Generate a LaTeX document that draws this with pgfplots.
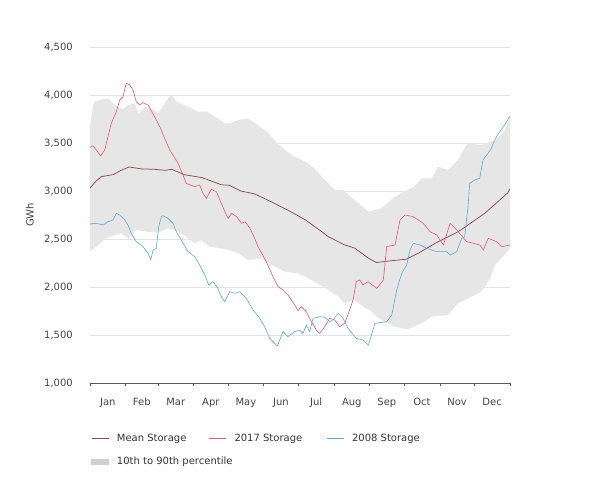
\documentclass[border=0pt]{standalone}
\usepackage{fontspec}
\setmainfont{DejaVu Sans}
\usepackage{pgfplots}
\pgfplotsset{compat=1.18}
\definecolor{meancol}{HTML}{8B4B55}
\definecolor{c2017}{HTML}{E8557A}
\definecolor{c2008}{HTML}{5BAAD2}
\definecolor{bandcol}{HTML}{E6E6E6}
\definecolor{bandleg}{HTML}{D0D0D0}
\definecolor{gridcol}{HTML}{E3E3E3}
\definecolor{txtcol}{HTML}{444444}
\newcommand\f{\fontsize{10bp}{12bp}\selectfont}
\begin{document}
\begin{tikzpicture}
\path[use as bounding box] (0,0) rectangle (600bp,480bp);
\begin{axis}[
  at={(90bp,97bp)}, anchor=south west,
  width=420bp, height=336bp, scale only axis,
  xmin=0, xmax=365, ymin=1000, ymax=4500,
  axis lines*=left,
  x axis line style={draw=black!65, line width=0.8pt},
  y axis line style={draw=none},
  xtick={0,31,59,90,120,151,181,212,243,273,304,334,365},
  xticklabels={Jan,Feb,Mar,Apr,May,Jun,Jul,Aug,Sep,Oct,Nov,Dec},
  x tick label as interval,
  ytick={1000,1500,2000,2500,3000,3500,4000,4500},
  tick align=outside,
  major tick length=3bp,
  xtick style={draw=black!65, line width=0.6pt},
  ytick style={draw=none},
  ymajorgrids,
  grid style={draw=gridcol, line width=0.8pt},
  /pgf/number format/1000 sep={,},
  /pgf/number format/assume math mode=true,
  tick label style={font=\f, text=txtcol},
  yticklabel style={inner sep=0pt, anchor=east, xshift=-14bp},
  xticklabel style={inner sep=0pt, anchor=north, yshift=-12bp},
  ylabel={GWh},
  ylabel style={at={(axis description cs:-0.143,0.5)}, rotate=0, anchor=center, font=\f, text=txtcol},
  legend columns=3,
  legend cell align=left,
  legend style={at={(axis description cs:0,0)}, anchor=north west, xshift=-2bp, yshift=-47bp,
    draw=none, fill=none, font=\f, text=black!80,
    row sep=10bp,
    /tikz/every odd column/.append style={column sep=6bp}},
]
\addplot[fill=bandcol, draw=none, forget plot] coordinates {
(0,3650)(2,3850)(4,3930)(10,3955)(16,3965)(20,3913)(24,3878)(29,3851)(33,3896)(39,3913)(42,3809)(49,3878)(56,3844)(59,3809)(63,3878)(69,3983)(71,4000)(75,3930)(82,3896)(94,3826)(102,3826)(111,3757)(117,3705)(121,3705)(129,3740)(137,3757)(146,3688)(155,3601)(163,3496)(175,3375)(187,3305)(195,3236)(204,3115)(213,3010)(220,3010)(230,2906)(242,2784)(253,2819)(265,2940)(273,2993)(282,3045)(288,3132)(297,3132)(302,3253)(311,3219)(320,3323)(326,3462)(329,3496)(340,3479)(352,3531)(360,3618)(365,3760)
(365,2403)(360,2333)(352,2229)(347,2073)(340,1951)(329,1882)(320,1830)(311,1708)(297,1691)(288,1621)(276,1559)(265,1586)(253,1656)(243,1760)(239,1778)(230,1865)(221,1830)(216,1899)(207,1969)(195,2055)(181,2142)(169,2160)(158,2229)(149,2299)(137,2281)(129,2351)(121,2385)(114,2403)(104,2420)(97,2490)(91,2455)(85,2507)(77,2576)(68,2611)(59,2566)(49,2576)(40,2594)(33,2507)(27,2559)(22,2542)(14,2507)(7,2437)(0,2368)
} -- cycle;
% Mean storage
\addplot[meancol, line width=0.75pt] coordinates {
(0,3030)(5,3100)(10,3150)(20,3170)(27,3215)(34,3250)(45,3230)(56,3226)(65,3215)(71,3226)(82,3170)(97,3140)(103,3115)(114,3065)(121,3060)(131,3000)(143,2970)(158,2885)(172,2800)(187,2700)(201,2580)(207,2525)(221,2440)(230,2405)(242,2300)(249,2255)(259,2270)(275,2290)(285,2350)(300,2455)(320,2576)(343,2767)(363,2980)(365,3025)
};
\addlegendentry{\makebox[90bp][l]{Mean Storage}}
% 2017
\addplot[c2017, line width=0.6pt] coordinates {
(0,3455)(2.6,3469)(5.5,3427)(9.3,3365)(12.8,3427)(15.6,3566)(18.5,3705)(22.9,3826)(25.8,3948)(28.7,3983)(31.5,4122)(34.5,4104)(37.4,4052)(40.2,3930)(43.2,3896)(46.1,3920)(50.4,3896)(56.2,3774)(60.6,3670)(64.9,3549)(69.3,3427)(72.1,3375)(76.5,3288)(80.8,3167)(83.7,3079)(91,3045)(95.3,3062)(98.2,2976)(101.1,2923)(105.4,3017)(109.8,2993)(114.1,2871)(118.5,2750)(120.2,2715)(123.1,2767)(127.5,2732)(131.8,2663)(134.7,2680)(139,2611)(143.1,2507)(146,2420)(153.2,2264)(159,2107)(163.4,2003)(167.7,1969)(172.1,1917)(177.9,1813)(180.8,1753)(183.6,1795)(188,1743)(192.3,1639)(196.7,1552)(199.6,1517)(204,1586)(208.3,1674)(212.7,1656)(217,1586)(221.3,1621)(225.7,1760)(228.6,1865)(231.4,2055)(234.4,2073)(237.3,2021)(241.6,2055)(249.2,1986)(254.9,2073)(257.9,2420)(265.1,2438)(269.4,2698)(273.8,2750)(281,2732)(289.7,2663)(295.5,2576)(301.3,2542)(307.1,2438)(312.9,2663)(318.7,2594)(327.4,2472)(338.9,2438)(341.8,2385)(346.1,2507)(353.4,2472)(357.8,2420)(365,2438)
};
\addlegendentry{\makebox[90bp][l]{2017 Storage}}
% 2008
\addplot[c2008, line width=0.6pt] coordinates {
(0,2656)(4.1,2663)(8.4,2656)(11.3,2646)(15.6,2680)(20,2698)(22.9,2767)(25.8,2750)(30.2,2698)(33,2646)(35.9,2559)(40.2,2472)(46.1,2420)(50.4,2351)(52.8,2281)(54.8,2385)(57.6,2403)(59.7,2628)(62,2732)(63.4,2743)(67.8,2715)(72.1,2663)(75,2576)(79.3,2490)(85.2,2368)(91,2316)(95.3,2229)(99.7,2125)(103.2,2021)(106.9,2055)(111.2,1986)(114.1,1899)(117.1,1847)(121.4,1951)(125.8,1934)(130.1,1951)(135.8,1882)(141.7,1760)(147.5,1674)(151.8,1586)(156.2,1465)(160.5,1413)(162.8,1385)(164.9,1448)(167.7,1535)(172.1,1483)(177.9,1535)(182.2,1552)(185.1,1517)(188,1604)(190.9,1535)(193.8,1674)(199.6,1691)(204,1684)(208.3,1639)(211.2,1656)(215.5,1726)(219.9,1674)(224.2,1569)(231.4,1465)(237.3,1448)(241.9,1396)(247.7,1621)(257.9,1639)(262.2,1708)(266.5,1969)(270.9,2142)(275.2,2229)(278.1,2385)(281,2455)(286.8,2438)(292.6,2403)(301.3,2368)(310,2368)(312.9,2333)(318.7,2368)(323,2507)(325.6,2524)(328.5,2836)(330,3079)(334.2,3115)(338.7,3132)(341.5,3323)(345.9,3392)(348.8,3444)(351.7,3531)(356,3618)(360.4,3688)(365,3780)
};
\addlegendentry{\makebox[90bp][l]{2008 Storage}}
\addlegendimage{area legend, fill=bandleg, draw=bandleg}
\addlegendentry{\makebox[90bp][l]{10th to 90th percentile}}
\end{axis}
\end{tikzpicture}
\end{document}
